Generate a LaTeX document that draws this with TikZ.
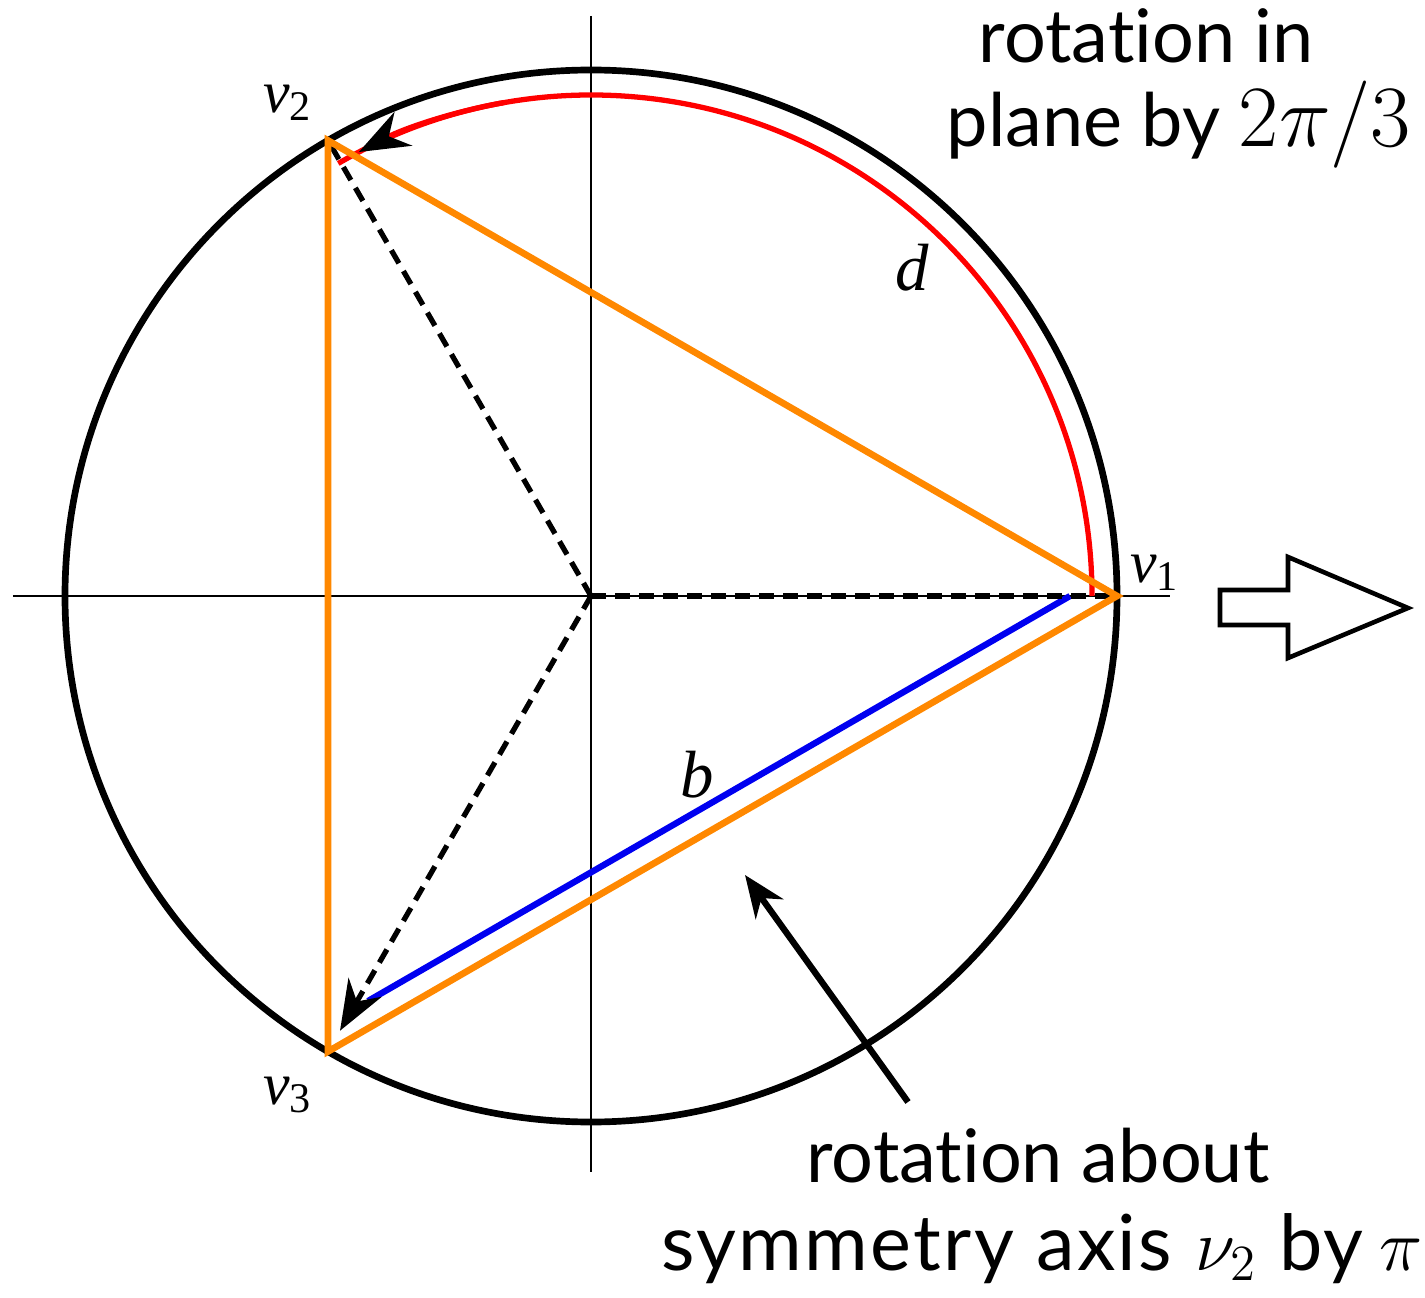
\documentclass[tikz,border=0pt]{standalone}
\usepackage{fontspec}
\setsansfont{Lato}[Ligatures=NoCommon]
\newfontfamily\lserif{Liberation Serif}
\usetikzlibrary{arrows.meta}
\definecolor{orng}{RGB}{255,136,0}
\definecolor{bblue}{RGB}{0,0,240}
\newcommand{\vlab}[1]{{\lserif\fontsize{17}{17}\selectfont\textit{v}\raisebox{-0.3ex}{\fontsize{12}{12}\selectfont #1}}}
\begin{document}
\begin{tikzpicture}[x=0.01cm,y=0.01cm,
  axis/.style={line width=0.7pt},
  rim/.style={line width=1.9pt},
  tri/.style={orng,line width=1.9pt,line join=miter},
  dsh/.style={line width=1.5pt,dash pattern=on 0.15cm off 0.09cm},
  lbl/.style={inner sep=0pt},
  captxt/.style={font=\sffamily\fontsize{21}{21}\selectfont,anchor=base,inner sep=0pt}]
\useasboundingbox (-591,-701) rectangle (834,596);
% axes
\draw[axis] (-578,0) -- (579,0);
\draw[axis] (0,580) -- (0,-576);
% circle
\coordinate (C) at (0,0);
\draw[rim] (C) circle[radius=526];
\coordinate (v1) at (0:526);
\coordinate (v2) at (120:526);
\coordinate (v3) at (240:526);
% red arc
\draw[red,line width=1.5pt] (0:501) arc[start angle=0,end angle=120.3,radius=501];
\draw[red,line width=1.5pt,-{Stealth[black,length=0.5cm,width=0.38cm]}] (100:501) arc[start angle=100,end angle=117.6,radius=501];
% blue line
\coordinate (b1) at (479,0);
\coordinate (b2) at (-223,-405);
\draw[bblue,line width=1.8pt] (b1) -- (b2);
% dashed radii
\draw[dsh] (C) -- (v1);
\draw[dsh] (C) -- (v2);
\draw[dsh,-{Stealth[length=0.5cm,width=0.38cm]},shorten >=0.24cm] (C) -- (v3);
% triangle
\draw[tri] (v1) -- (v2) -- (v3) -- cycle;
% labels
\node[lbl] (l2) at (-304,493) {\vlab{2}};
\node[lbl] (l1) at (563,23) {\vlab{1}};
\node[lbl] (l3) at (-304,-499) {\vlab{3}};
\node[lbl] (ld) at (321,328) {\lserif\fontsize{19}{19}\selectfont\textit{d}};
\node[lbl] (lb) at (106,-179) {\lserif\fontsize{19}{19}\selectfont\textit{b}};
% big open arrow
\draw[line width=1.3pt,line join=miter] (629,6) -- (697,6) -- (697,39) -- (817,-12) -- (697,-62) -- (697,-29) -- (629,-29) -- cycle;
% pointer arrow
\coordinate (pt) at (317,-506);
\coordinate (ph) at (154,-279);
\draw[line width=1.8pt,-{Stealth[length=0.42cm,width=0.34cm]}] (pt) -- (ph);
% captions
\node[captxt] (t1) at (555,533) {rotation in};
\node[captxt] (t2) at (588,449) {plane by {\fontsize{23}{23}\selectfont$2\pi/3$}};
\node[captxt] (t3) at (447,-586) {rotation about};
\node[captxt] (t4) at (451,-674) {\fontsize{22}{22}\selectfont\addfontfeature{LetterSpace=3}symmetry axis\hspace{0.3em}$\nu_2$ by\hspace{0.2em}$\pi$};
\end{tikzpicture}
\end{document}
